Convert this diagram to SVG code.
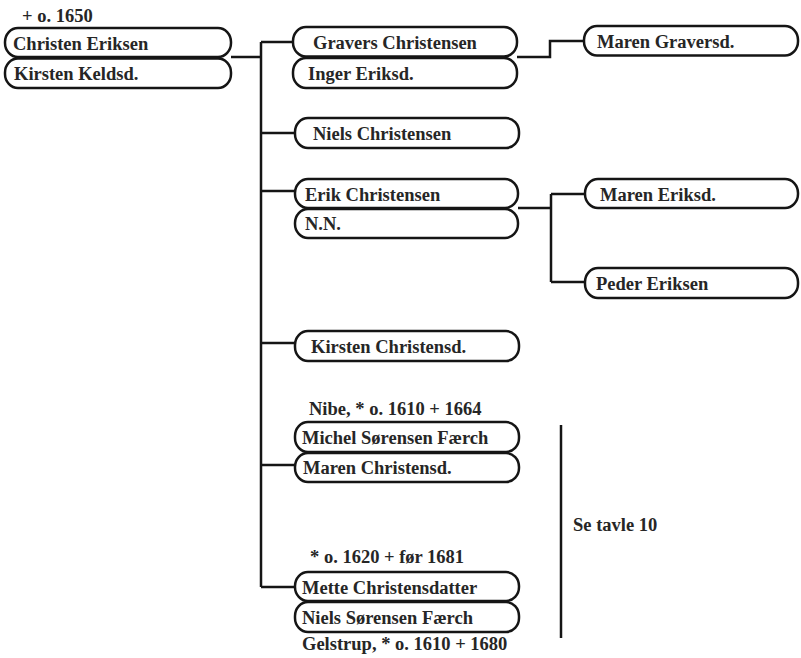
<svg xmlns="http://www.w3.org/2000/svg" width="801" height="658" viewBox="0 0 801 658">
<style>
.b{fill:#fff;stroke:#151515;stroke-width:2.5}
.t{font-family:'Liberation Serif','Times New Roman','DejaVu Serif',serif;font-weight:700;font-size:18.5px;fill:#262626}
.c{fill:none;stroke:#151515;stroke-width:2.5}
</style>
<rect width="801" height="658" fill="#fff"/>
<g id="connectors">
<path class="c" d="M231 57H261M261 42V587M261 42H294M261 133H295M261 191H295M261 343H295M261 465H295M261 587H295"/>
<path class="c" d="M517 57H550V41H584"/>
<path class="c" d="M518 208H551M551 194V282M551 194H585M551 282H585"/>
<path class="c" d="M561 425V638"/>
</g>
<g id="christen-eriksen">
<text class="t" x="22" y="22">+ o. 1650</text>
<rect class="b" x="5" y="28" width="226" height="29" rx="13" ry="14"/>
<text class="t" x="13" y="50">Christen Eriksen</text>
</g>
<g id="kirsten-keldsd">
<rect class="b" x="5" y="58.5" width="226" height="29.5" rx="13" ry="14"/>
<text class="t" x="14" y="80">Kirsten Keldsd.</text>
</g>
<g id="gravers-christensen">
<rect class="b" x="293" y="27" width="224" height="29.5" rx="13" ry="14"/>
<text class="t" x="313" y="49">Gravers Christensen</text>
</g>
<g id="inger-eriksd">
<rect class="b" x="293" y="58" width="224" height="30" rx="13" ry="14"/>
<text class="t" x="308" y="80">Inger Eriksd.</text>
</g>
<g id="maren-graversd">
<rect class="b" x="584" y="26" width="214" height="29.5" rx="13" ry="14"/>
<text class="t" x="597" y="48">Maren Graversd.</text>
</g>
<g id="niels-christensen">
<rect class="b" x="295" y="118" width="224" height="30" rx="13" ry="14"/>
<text class="t" x="313" y="140">Niels Christensen</text>
</g>
<g id="erik-christensen">
<rect class="b" x="295" y="179" width="223" height="29" rx="13" ry="14"/>
<text class="t" x="305" y="201">Erik Christensen</text>
</g>
<g id="nn">
<rect class="b" x="295" y="209" width="223" height="29" rx="13" ry="14"/>
<text class="t" x="305" y="230">N.N.</text>
</g>
<g id="maren-eriksd">
<rect class="b" x="585" y="179" width="213" height="29" rx="13" ry="14"/>
<text class="t" x="600" y="201">Maren Eriksd.</text>
</g>
<g id="peder-eriksen">
<rect class="b" x="585" y="268" width="213" height="30" rx="13" ry="14"/>
<text class="t" x="596" y="290">Peder Eriksen</text>
</g>
<g id="kirsten-christensd">
<rect class="b" x="295" y="331" width="224" height="30" rx="13" ry="14"/>
<text class="t" x="311" y="353">Kirsten Christensd.</text>
</g>
<g id="michel-sorensen-faerch">
<text class="t" x="309" y="415">Nibe, * o. 1610 + 1664</text>
<rect class="b" x="295" y="422" width="224" height="30" rx="13" ry="14"/>
<text class="t" x="302" y="444">Michel Sørensen Færch</text>
</g>
<g id="maren-christensd">
<rect class="b" x="295" y="453" width="224" height="29" rx="13" ry="14"/>
<text class="t" x="303" y="474">Maren Christensd.</text>
</g>
<g id="mette-christensdatter">
<text class="t" x="310" y="563">* o. 1620 + før 1681</text>
<rect class="b" x="295" y="572" width="224" height="29" rx="13" ry="14"/>
<text class="t" x="302" y="594">Mette Christensdatter</text>
</g>
<g id="niels-sorensen-faerch">
<rect class="b" x="295" y="602" width="224" height="30" rx="13" ry="14"/>
<text class="t" x="302" y="624">Niels Sørensen Færch</text>
<text class="t" x="302" y="650">Gelstrup, * o. 1610 + 1680</text>
</g>
<g id="se-tavle-10">
<text class="t" x="573" y="531">Se tavle 10</text>
</g>
</svg>
